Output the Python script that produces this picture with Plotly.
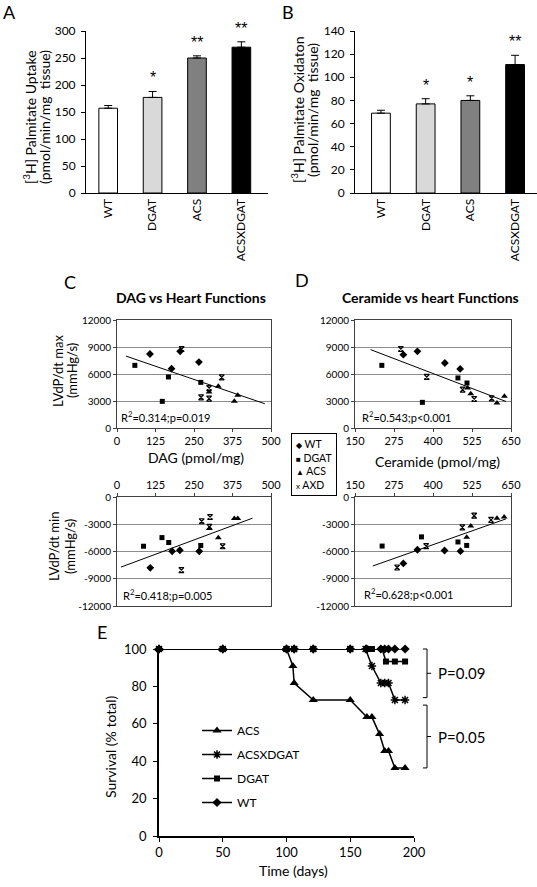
import numpy as np
import plotly.graph_objects as go

W, H = 537, 887
FONT = "Lato, 'Liberation Sans', Arial, sans-serif"


def PX(x):
    return x / W


def PY(y):
    return 1 - y / H


# ---------------- Panel A / B data ----------------
genotypes = ["WT", "DGAT", "ACS", "ACSXDGAT"]
uptake = [157, 177, 250, 270]
uptake_err = [5, 11, 4, 10]
uptake_sig = ["", "*", "**", "**"]
oxidation = [69, 77, 80, 111]
oxidation_err = [2.5, 4.5, 4, 8]
oxidation_sig = ["", "*", "*", "**"]
bar_colors = ["#ffffff", "#d9d9d9", "#808080", "#000000"]

# ---------------- Panel C data (DAG, pmol/mg) ----------------
dag_max_wt_x = [107, 177, 205, 266]
dag_max_wt_y = [8220, 6590, 8520, 7330]
dag_max_dgat_x = [58, 147, 167, 272]
dag_max_dgat_y = [6960, 2960, 5670, 5070]
dag_max_acs_x = [299, 329, 381, 392]
dag_max_acs_y = [4000, 4630, 2960, 3630]
dag_max_axd_x = [210, 273, 299, 299, 340]
dag_max_axd_y = [8780, 3410, 4440, 3260, 5630]

dag_min_wt_x = [108, 179, 204, 267]
dag_min_wt_y = [-7800, -5970, -5860, -5970]
dag_min_dgat_x = [86, 146, 168, 272]
dag_min_dgat_y = [-5420, -4470, -5010, -5340]
dag_min_acs_x = [300, 329, 381, 392]
dag_min_acs_y = [-3480, -4500, -2380, -2380]
dag_min_axd_x = [209, 275, 302, 300, 343]
dag_min_axd_y = [-8050, -2670, -2200, -3290, -5420]

# ---------------- Panel D data (Ceramide, pmol/mg) ----------------
cer_max_wt_x = [305, 350, 438, 487]
cer_max_wt_y = [8150, 8520, 7220, 6560]
cer_max_dgat_x = [236, 366, 480, 509]
cer_max_dgat_y = [6960, 2850, 5560, 5000]
cer_max_acs_x = [511, 521, 605, 629]
cer_max_acs_y = [4440, 3810, 2780, 3520]
cer_max_axd_x = [297, 380, 495, 532, 588]
cer_max_axd_y = [8780, 5670, 4260, 3220, 3300]

cer_min_wt_x = [305, 350, 437, 488]
cer_min_wt_y = [-7310, -5810, -5890, -5960]
cer_min_dgat_x = [237, 363, 480, 508]
cer_min_dgat_y = [-5400, -4390, -4950, -5330]
cer_min_acs_x = [508, 521, 605, 628]
cer_min_acs_y = [-4430, -3190, -2330, -2210]
cer_min_axd_x = [285, 378, 494, 532, 586]
cer_min_axd_y = [-7760, -5400, -3340, -2060, -2510]

# trendline spans (x extents of the fitted lines) and statistics text
trend_span_dag_max = [29, 480]
trend_span_dag_min = [13, 440]
trend_span_cer_max = [200, 634]
trend_span_cer_min = [207, 634]
stat_dag_max = "R<sup>2</sup>=0.314;p=0.019"
stat_dag_min = "R<sup>2</sup>=0.418;p=0.005"
stat_cer_max = "R<sup>2</sup>=0.543;p<0.001"
stat_cer_min = "R<sup>2</sup>=0.628;p<0.001"

max_ticks = [0, 3000, 6000, 9000, 12000]
min_ticks = [0, -3000, -6000, -9000, -12000]
dag_ticks = [0, 125, 250, 375, 500]
cer_ticks = [150, 275, 400, 525, 650]

# ---------------- Panel E data (survival) ----------------
acs_t = [0, 50, 100, 105, 106, 121, 150, 163, 167, 173, 177, 180, 185, 193]
acs_s = [100, 100, 100, 90.9, 81.8, 72.7, 72.7, 63.6, 63.6, 54.5, 45.5, 45.5, 36.4, 36.4]
axd_t = [0, 50, 100, 106, 121, 150, 162, 167, 174, 177, 180, 185, 193]
axd_s = [100, 100, 100, 100, 100, 100, 100, 90.9, 81.8, 81.8, 81.8, 72.7, 72.7]
dgat_t = [0, 50, 100, 106, 121, 150, 163, 167, 175, 178, 185, 193]
dgat_s = [100, 100, 100, 100, 100, 100, 100, 100, 100, 93.3, 93.3, 93.3]
wt_t = [0, 50, 100, 106, 121, 150, 163, 174, 177, 180, 185, 193]
wt_s = [100] * 12
p_labels = ["P=0.09", "P=0.05"]
p_top = [100, 70]
p_bottom = [74, 36.4]

fig = go.Figure()

# ---------------- Bars ----------------
for vals, errs, xa, ya in [(uptake, uptake_err, "x", "y"), (oxidation, oxidation_err, "x2", "y2")]:
    fig.add_trace(go.Bar(
        x=genotypes, y=vals, xaxis=xa, yaxis=ya, width=0.42,
        marker=dict(color=bar_colors, line=dict(color="black", width=1)),
        error_y=dict(type="data", array=errs, arrayminus=[0] * len(errs), symmetric=False,
                     color="black", thickness=1, width=4),
        showlegend=False, hoverinfo="skip"))

# ---------------- Scatter panels ----------------
sym = {"WT": ("diamond", 6), "DGAT": ("square", 5), "ACS": ("triangle-up", 6), "AXD": ("hourglass-open", 5)}
panels = [
    ("x3", "y3", [("WT", dag_max_wt_x, dag_max_wt_y), ("DGAT", dag_max_dgat_x, dag_max_dgat_y),
                  ("ACS", dag_max_acs_x, dag_max_acs_y), ("AXD", dag_max_axd_x, dag_max_axd_y)], trend_span_dag_max),
    ("x4", "y4", [("WT", dag_min_wt_x, dag_min_wt_y), ("DGAT", dag_min_dgat_x, dag_min_dgat_y),
                  ("ACS", dag_min_acs_x, dag_min_acs_y), ("AXD", dag_min_axd_x, dag_min_axd_y)], trend_span_dag_min),
    ("x5", "y5", [("WT", cer_max_wt_x, cer_max_wt_y), ("DGAT", cer_max_dgat_x, cer_max_dgat_y),
                  ("ACS", cer_max_acs_x, cer_max_acs_y), ("AXD", cer_max_axd_x, cer_max_axd_y)], trend_span_cer_max),
    ("x6", "y6", [("WT", cer_min_wt_x, cer_min_wt_y), ("DGAT", cer_min_dgat_x, cer_min_dgat_y),
                  ("ACS", cer_min_acs_x, cer_min_acs_y), ("AXD", cer_min_axd_x, cer_min_axd_y)], trend_span_cer_min),
]
for xa, ya, groups, span in panels:
    allx, ally = [], []
    for name, gx, gy in groups:
        s, sz = sym[name]
        allx += gx
        ally += gy
        fig.add_trace(go.Scatter(x=gx, y=gy, mode="markers", xaxis=xa, yaxis=ya, showlegend=False,
                                 marker=dict(symbol=s, size=sz, color="black",
                                             line=dict(color="black", width=1.2 if "open" in s else 0)),
                                 hoverinfo="skip", cliponaxis=False))
    coef = np.polyfit(allx, ally, 1)
    tx = np.array(span, dtype=float)
    fig.add_trace(go.Scatter(x=tx, y=np.polyval(coef, tx), mode="lines", xaxis=xa, yaxis=ya,
                             line=dict(color="black", width=1), showlegend=False, hoverinfo="skip"))

# ---------------- Survival ----------------
surv = [("ACS", acs_t, acs_s, "triangle-up", 8),
        ("ACSXDGAT", axd_t, axd_s, "asterisk-open", 7),
        ("DGAT", dgat_t, dgat_s, "square", 6),
        ("WT", wt_t, wt_s, "diamond", 7)]
for name, t, s, symb, sz in surv:
    fig.add_trace(go.Scatter(
        x=t, y=s, name=name, mode="lines+markers", xaxis="x7", yaxis="y7", legendgroup=name,
        line=dict(color="black", width=1.5),
        marker=dict(symbol=symb, size=sz, color="black", line=dict(color="black", width=1.5 if "open" in symb else 0)),
        cliponaxis=False, hoverinfo="skip"))

# ---------------- Layout ----------------
bar_y_common = dict(showline=True, linecolor="black", linewidth=1, ticks="outside", ticklen=4,
                    tickcolor="black", showgrid=False, zeroline=False, tickfont=dict(size=12),
                    ticklabelstandoff=3, automargin=False)
bar_x_common = dict(showline=True, linecolor="black", linewidth=1, ticks="", tickangle=-90,
                    showgrid=False, zeroline=False, tickfont=dict(size=12), type="category",
                    automargin=False)


def sc_x(dom, ticks, anchor, side):
    return dict(domain=dom, range=[ticks[0], ticks[-1]], tickvals=ticks, ticktext=[str(v) for v in ticks],
                showline=True, mirror=True, linecolor="#404040", linewidth=1, ticks="outside", ticklen=3,
                tickcolor="#404040", showgrid=False, zeroline=False, tickfont=dict(size=11),
                anchor=anchor, side=side, automargin=False)


def sc_y(dom, ticks, anchor):
    return dict(domain=dom, range=[min(ticks), max(ticks)], tickvals=ticks, ticktext=[str(v) for v in ticks],
                showline=True, mirror=True, linecolor="#404040", linewidth=1, ticks="outside", ticklen=3,
                tickcolor="#404040", showgrid=True, gridcolor="#8c8c8c", gridwidth=1, zeroline=False,
                tickfont=dict(size=10), anchor=anchor, automargin=False)


ctop = [PY(428), PY(320)]
cbot = [PY(606), PY(497)]
cx = [PX(117), PX(271)]
dx = [PX(355), PX(511)]

fig.update_layout(
    width=W, height=887, margin=dict(l=0, r=0, t=0, b=0, pad=0, autoexpand=False),
    paper_bgcolor="white", plot_bgcolor="white",
    font=dict(family=FONT, color="black"),
    xaxis=dict(domain=[PX(86), PX(268)], range=[-0.5, 3.6], anchor="y", **bar_x_common),
    yaxis=dict(domain=[PY(193), PY(31)], range=[0, 300], dtick=50, anchor="x", **bar_y_common),
    xaxis2=dict(domain=[PX(355), 1.0], range=[-0.58, 3.49], anchor="y2", **bar_x_common),
    yaxis2=dict(domain=[PY(193), PY(31)], range=[0, 140], dtick=20, anchor="x2", **bar_y_common),
    xaxis3=sc_x(cx, dag_ticks, "y3", "bottom"),
    yaxis3=sc_y(ctop, max_ticks, "x3"),
    xaxis4=sc_x(cx, dag_ticks, "y4", "top"),
    yaxis4=sc_y(cbot, min_ticks, "x4"),
    xaxis5=sc_x(dx, cer_ticks, "y5", "bottom"),
    yaxis5=sc_y(ctop, max_ticks, "x5"),
    xaxis6=sc_x(dx, cer_ticks, "y6", "top"),
    yaxis6=sc_y(cbot, min_ticks, "x6"),
    xaxis7=dict(domain=[PX(159), PX(414)], range=[0, 200], tickvals=[0, 50, 100, 150, 200],
                showline=True, linecolor="black", linewidth=1.5, ticks="outside", ticklen=4,
                tickcolor="black", showgrid=False, zeroline=False, tickfont=dict(size=13), anchor="y7",
                automargin=False),
    yaxis7=dict(domain=[PY(836), PY(649)], range=[0, 100], tickvals=[0, 20, 40, 60, 80, 100],
                showline=True, linecolor="black", linewidth=1.5, ticks="outside", ticklen=4,
                tickcolor="black", showgrid=False, zeroline=False, tickfont=dict(size=13), anchor="x7",
                ticklabelstandoff=4, automargin=False),
    showlegend=True,
    legend=dict(x=PX(197), y=PY(716), xanchor="left", yanchor="top", bgcolor="rgba(0,0,0,0)",
                font=dict(size=12), tracegroupgap=5, itemwidth=30),
)

ann = []


def A(text, x, y, size, **kw):
    d = dict(text=text, x=PX(x), y=PY(y), xref="paper", yref="paper", showarrow=False,
             xanchor="center", yanchor="middle",
             font=dict(size=size, family=FONT, color="black"))
    d.update(kw)
    ann.append(d)


# panel letters
for letter, x, y in [("A", 9, 12), ("B", 288, 12), ("C", 70, 282), ("D", 302, 280), ("E", 102, 632)]:
    A(letter, x, y, 18)

# bar y titles
A("[<sup>3</sup>H] Palmitate Uptake", 30, 117, 14, textangle=-90)
A("(pmol/min/mg  tissue)", 45, 117, 14, textangle=-90)
A("[<sup>3</sup>H] Palmitate Oxidaton", 298, 110, 14, textangle=-90)
A("(pmol/min/mg  tissue)", 313, 110, 14, textangle=-90)

# significance stars
for vals, errs, sig, xa, ya in [(uptake, uptake_err, uptake_sig, "x", "y"),
                                (oxidation, oxidation_err, oxidation_sig, "x2", "y2")]:
    for g, v, e, s in zip(genotypes, vals, errs, sig):
        if s:
            ann.append(dict(text=s, x=g, y=v + e, xref=xa, yref=ya, showarrow=False, xanchor="center",
                            yanchor="bottom", yshift=3,
                            font=dict(size=16, family="'Liberation Sans', Arial", color="black")))

# scatter titles
A("<b>DAG vs Heart Functions</b>", 191, 297, 14)
A("<b>Ceramide vs heart Functions</b>", 430, 297, 14)
A("LVdP/dt max", 58, 371, 13, textangle=-90)
A("(mmHg/s)", 72, 371, 13, textangle=-90)
A("LVdP/dt min", 54, 547, 13, textangle=-90)
A("(mmHg/s)", 70, 547, 13, textangle=-90)
A("DAG (pmol/mg)", 196, 457, 14)
A("Ceramide (pmol/mg)", 437, 461, 14)
A(stat_dag_max, 119, 417, 11, xanchor="left")
A(stat_dag_min, 121, 594, 11, xanchor="left")
A(stat_cer_max, 360, 417, 11, xanchor="left")
A(stat_cer_min, 362, 593, 11, xanchor="left")

# scatter legend box
leg_txt = ("<span style='font-size:8px'>\u25C6</span> WT<br>"
           "<span style='font-size:8px'>\u25A0</span> DGAT<br>"
           "<span style='font-size:8px'>\u25B2</span> ACS<br>"
           "<span style='font-size:8px'>x</span> AXD")
A(leg_txt, 291, 433, 10.5, xanchor="left", yanchor="top", align="left",
  bordercolor="black", borderwidth=1, borderpad=4, bgcolor="white")

# survival axis titles
A("Survival (% total)", 110, 747, 14, textangle=-90)
A("Time (days)", 293, 870, 14)

# P-value brackets
shapes = []
bx, tick = 1.051, 0.016
for lab, top, bot in zip(p_labels, p_top, p_bottom):
    yt, yb = top / 100, bot / 100
    ym = (yt + yb) / 2
    for x0, y0, x1, y1 in [(bx, yt, bx, yb), (bx - tick, yt, bx, yt), (bx - tick, yb, bx, yb),
                           (bx, ym, bx + tick, ym)]:
        shapes.append(dict(type="line", xref="x7 domain", yref="y7 domain", x0=x0, y0=y0, x1=x1, y1=y1,
                           line=dict(color="black", width=1)))
    ann.append(dict(text=lab, x=bx + 0.035, y=ym, xref="x7 domain", yref="y7 domain", showarrow=False,
                    xanchor="left", yanchor="middle", font=dict(size=15, family=FONT, color="black")))

fig.update_layout(annotations=ann, shapes=shapes)
fig.write_html("out.html", config={"displayModeBar": False},
               post_script="document.body.style.margin='0px';")
